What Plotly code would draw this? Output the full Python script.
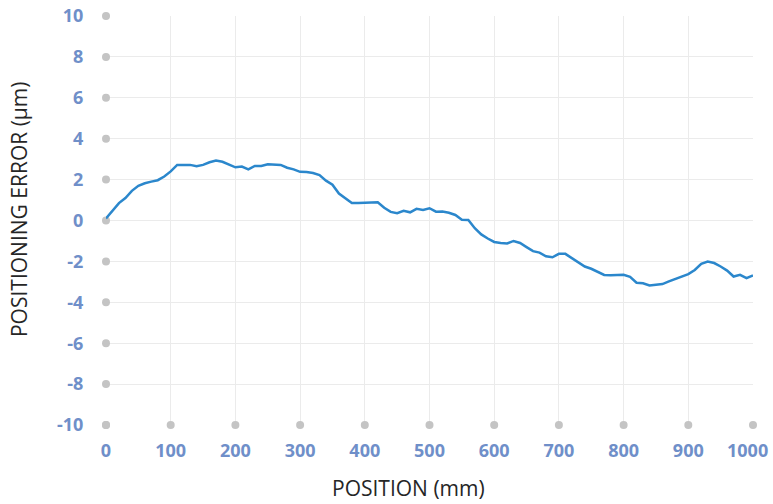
import plotly.graph_objects as go

position_mm = [i * 10 for i in range(101)]
error_um = [0.1, 0.45, 0.85, 1.1, 1.45, 1.7, 1.82, 1.9, 1.97, 2.15,
            2.4, 2.72, 2.72, 2.72, 2.65, 2.72, 2.85, 2.93, 2.87, 2.75,
            2.6, 2.64, 2.5, 2.67, 2.67, 2.75, 2.74, 2.72, 2.58, 2.5,
            2.38, 2.37, 2.32, 2.22, 1.95, 1.75, 1.32, 1.1, 0.86, 0.85,
            0.86, 0.85, 0.89, 0.62, 0.42, 0.36, 0.47, 0.4, 0.57, 0.52,
            0.6, 0.43, 0.44, 0.38, 0.27, 0.04, 0.03, -0.38, -0.68, -0.88,
            -1.05, -1.1, -1.12, -1.0, -1.1, -1.3, -1.5, -1.57, -1.75, -1.8,
            -1.63, -1.63, -1.85, -2.05, -2.25, -2.36, -2.5, -2.66, -2.68, -2.68,
            -2.65, -2.75, -3.04, -3.07, -3.18, -3.14, -3.11, -2.98, -2.87, -2.75,
            -2.62, -2.42, -2.12, -2.01, -2.08, -2.25, -2.45, -2.74, -2.66, -2.82,
            -2.69]

x_ticks = [0, 100, 200, 300, 400, 500, 600, 700, 800, 900, 1000]
y_ticks = [-10, -8, -6, -4, -2, 0, 2, 4, 6, 8, 10]
x_labels = [str(v) for v in x_ticks]
y_labels = [str(v) for v in y_ticks]
x_title = "POSITION (mm)"
y_title = "POSITIONING ERROR (µm)"

fig = go.Figure()
# tick dots along the axes
fig.add_trace(go.Scatter(x=x_ticks, y=[y_ticks[0]] * len(x_ticks), mode="markers",
                         marker=dict(color="#c4c4c4", size=8), cliponaxis=False,
                         hoverinfo="skip", showlegend=False))
fig.add_trace(go.Scatter(x=[x_ticks[0]] * len(y_ticks), y=y_ticks, mode="markers",
                         marker=dict(color="#c4c4c4", size=8), cliponaxis=False,
                         hoverinfo="skip", showlegend=False))
fig.add_trace(go.Scatter(x=position_mm, y=error_um, mode="lines",
                         line=dict(color="#2b87cc", width=2.5), showlegend=False))

tick_font = dict(family="Open Sans", size=18, color="#6f8fc9", weight="bold")
title_font = dict(family="Open Sans", size=21, color="#262626")

# last x label is drawn as an annotation so it can sit just inside the page edge
x_ticktext = x_labels[:-1] + [""]

fig.update_layout(
    width=773, height=504,
    margin=dict(l=106, r=20, t=16, b=79),
    plot_bgcolor="white", paper_bgcolor="white",
    xaxis=dict(range=[0, 1000], tickvals=x_ticks, ticktext=x_ticktext, showgrid=True,
               gridcolor="#ebebeb", gridwidth=1, zeroline=False, showline=False,
               tickfont=tick_font, ticks="outside", ticklen=9, tickcolor="rgba(0,0,0,0)",
               automargin=False),
    yaxis=dict(range=[-10, 10], tickvals=y_ticks, ticktext=y_labels, showgrid=True,
               gridcolor="#ebebeb", gridwidth=1, zeroline=False, showline=False,
               tickfont=tick_font, ticks="outside", ticklen=18, tickcolor="rgba(0,0,0,0)",
               automargin=False),
    annotations=[
        dict(text=x_labels[-1], xref="paper", yref="paper", x=1.027, y=0,
             xanchor="right", yanchor="middle", yshift=-25, showarrow=False,
             font=tick_font),
        dict(text=x_title, xref="paper", yref="paper", x=0.4668, y=-0.154,
             xanchor="center", yanchor="middle", showarrow=False, font=title_font),
        dict(text=y_title, xref="paper", yref="paper", x=-0.1345, y=0.528,
             xanchor="center", yanchor="middle", showarrow=False, font=title_font,
             textangle=-90),
    ],
)
fig.write_html("out.html", config={"displayModeBar": False},
               post_script="document.body.style.margin='0';")
